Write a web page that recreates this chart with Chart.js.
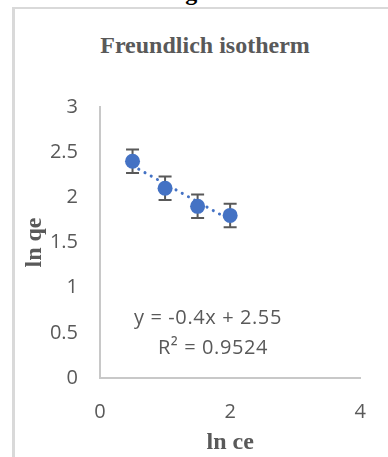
<!DOCTYPE html>
<html>
<head>
<meta charset="utf-8">
<script src="https://cdn.jsdelivr.net/npm/chart.js@4.4.1/dist/chart.umd.min.js"></script>
<style>
  html, body { margin: 0; padding: 0; background: #fff; overflow: hidden; }
  #wrap { position: relative; width: 388px; height: 457px; }
  #frame { position: absolute; left: 12px; top: 7px; width: 400px; height: 460px;
           border-left: 3px solid #d9d9d9; border-top: 2px solid #d9d9d9; box-sizing: border-box; }
  #caption { position: absolute; left: 164px; top: -22px; font: bold 24px "Liberation Serif", "Times New Roman", serif;
             color: #000; line-height: 28px; white-space: nowrap; }
  #title { position: absolute; left: 0; top: 31px; width: 410px; text-align: center;
           font: bold 24px "Liberation Serif", "Times New Roman", serif; color: #595959; line-height: 28px; }
  .eq { position: absolute; width: 200px; text-align: center; font: 20px "Open Sans", sans-serif;
        color: #595959; line-height: 28px; letter-spacing: 0.6px; white-space: nowrap; }
  canvas { position: absolute; left: 0; top: 0; }
</style>
</head>
<body>
<div id="wrap">
  <div id="caption">Figure</div>
  <div id="frame"></div>
  <div id="title">Freundlich isotherm</div>
  <canvas id="chart" width="388" height="457"></canvas>
  <div class="eq" id="eq1" style="left:108px; top:303px;"></div>
  <div class="eq" id="eq2" style="left:113px; top:333px;"></div>
</div>
<script>
// Freundlich linearised data: ln ce vs ln qe
const lnCe = [0.5, 1, 1.5, 2];
const lnQe = [2.4, 2.1, 1.9, 1.8];
const lnQeError = [0.13, 0.13, 0.13, 0.13];

// Axis ticks
const xTicks = [0, 2, 4];
const yTicks = [0, 0.5, 1, 1.5, 2, 2.5, 3];

// Linear trendline reported on the chart
const trendSlope = -0.4;
const trendIntercept = 2.55;
const trendRSquared = 0.9524;
const trendRange = [0.5, 2];

const ink = '#595959';
const axisLine = '#c8c8c8';
const blue = '#4472C4';

document.getElementById('eq1').textContent = 'y = ' + trendSlope + 'x + ' + trendIntercept;
document.getElementById('eq2').textContent = 'R\u00B2 = ' + trendRSquared;

const points = lnCe.map((x, i) => ({ x: x, y: lnQe[i] }));
const trendPoints = trendRange.map(x => ({ x: x, y: trendSlope * x + trendIntercept }));

// Vertical error bars with caps, drawn under the markers
const errorBars = {
  id: 'errorBars',
  beforeDatasetsDraw(chart) {
    const { ctx, scales: { x, y } } = chart;
    ctx.save();
    ctx.strokeStyle = ink;
    ctx.lineWidth = 2;
    const cap = 6.5;
    lnCe.forEach((xv, i) => {
      const px = x.getPixelForValue(xv);
      const top = y.getPixelForValue(lnQe[i] + lnQeError[i]);
      const bot = y.getPixelForValue(lnQe[i] - lnQeError[i]);
      ctx.beginPath();
      ctx.moveTo(px, top); ctx.lineTo(px, bot);
      ctx.moveTo(px - cap, top); ctx.lineTo(px + cap, top);
      ctx.moveTo(px - cap, bot); ctx.lineTo(px + cap, bot);
      ctx.stroke();
    });
    ctx.restore();
  }
};

new Chart(document.getElementById('chart'), {
  type: 'scatter',
  data: {
    datasets: [
      {
        label: 'ln qe',
        data: points,
        pointRadius: 7.5,
        pointHoverRadius: 7.5,
        pointBackgroundColor: blue,
        pointBorderColor: blue,
        pointBorderWidth: 0,
        order: 2
      },
      {
        label: 'Linear (ln qe)',
        type: 'line',
        data: trendPoints,
        showLine: true,
        borderColor: blue,
        borderWidth: 3,
        borderDash: [0.1, 7],
        borderCapStyle: 'round',
        pointRadius: 0,
        fill: false,
        order: 1
      }
    ]
  },
  options: {
    responsive: false,
    animation: false,
    events: [],
    layout: { padding: { left: 0, right: 26, top: 107, bottom: 0 } },
    plugins: {
      legend: { display: false },
      tooltip: { enabled: false },
      title: { display: false }
    },
    scales: {
      x: {
        type: 'linear',
        min: xTicks[0],
        max: xTicks[xTicks.length - 1],
        afterBuildTicks(scale) { scale.ticks = xTicks.map(v => ({ value: v })); },
        afterFit(scale) { scale.height = 79; },
        grid: { display: false, drawTicks: false },
        border: { display: true, color: axisLine, width: 2 },
        ticks: { color: ink, padding: 22, font: { family: 'Open Sans', size: 20 }, maxRotation: 0,
                 callback: v => String(v) },
        title: { display: true, text: 'ln ce', color: ink, padding: { top: 0, bottom: 0 },
                 font: { family: 'Liberation Serif', size: 24, weight: 'bold' } }
      },
      y: {
        type: 'linear',
        min: yTicks[0],
        max: yTicks[yTicks.length - 1],
        afterBuildTicks(scale) { scale.ticks = yTicks.map(v => ({ value: v })); },
        afterFit(scale) { scale.width = 100; },
        grid: { display: false, drawTicks: false },
        border: { display: true, color: axisLine, width: 2 },
        ticks: { color: ink, padding: 22, font: { family: 'Open Sans', size: 20 },
                 callback: v => String(v) },
        title: { display: true, text: 'ln qe', color: ink, padding: { top: 20, bottom: 0 },
                 font: { family: 'Liberation Serif', size: 24, weight: 'bold' } }
      }
    }
  },
  plugins: [errorBars]
});
</script>
</body>
</html>
